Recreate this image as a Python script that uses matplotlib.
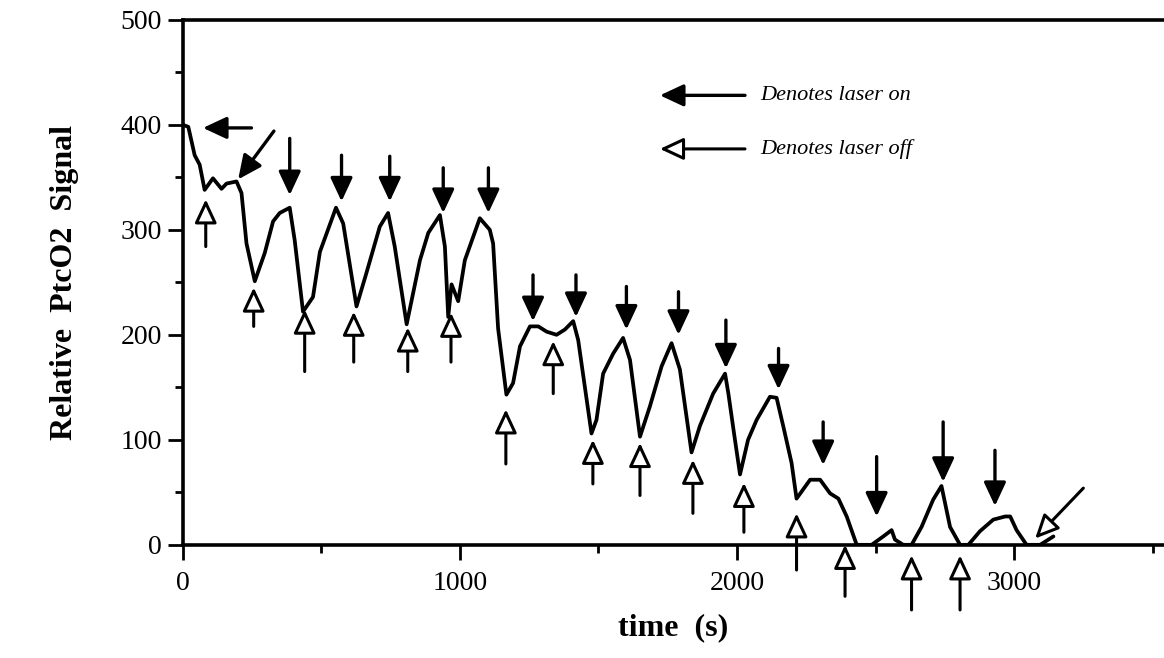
import numpy as np
import matplotlib
matplotlib.use('Agg')
import matplotlib.pyplot as plt
from matplotlib.ticker import MultipleLocator

plt.rcParams['font.family'] = ['Liberation Serif', 'DejaVu Serif']

# PtcO2 trace
time_s = [0, 20, 43, 61, 79, 109, 140, 158, 194, 212, 230, 260, 296, 326, 350, 386, 404, 434,
          470, 495, 553, 579, 627, 663, 711, 741, 765, 808, 856, 886, 928, 946, 958, 970, 994,
          1018, 1072, 1108, 1120, 1138, 1168, 1192, 1217, 1253, 1283, 1313, 1349, 1379, 1409,
          1427, 1475, 1493, 1517, 1553, 1589, 1614, 1650, 1686, 1728, 1764, 1794, 1836, 1866,
          1914, 1957, 1969, 1990, 2011, 2040, 2071, 2119, 2143, 2167, 2197, 2215, 2264, 2300,
          2336, 2366, 2396, 2432, 2486, 2528, 2558, 2570, 2600, 2630, 2666, 2708, 2738, 2769,
          2805, 2835, 2877, 2925, 2968, 2986, 3009, 3045, 3094, 3142]
signal = [400, 398, 371, 362, 338, 349, 339, 344, 346, 335, 287, 251, 278, 308, 316, 321, 290, 222,
          236, 279, 321, 306, 227, 259, 303, 316, 284, 210, 271, 297, 314, 284, 217, 248, 232,
          271, 311, 300, 287, 206, 143, 154, 189, 208, 208, 203, 200, 205, 213,
          195, 106, 119, 163, 182, 197, 176, 103, 132, 170, 192, 167, 88, 113,
          144, 163, 144, 105, 67, 100, 119, 141, 140, 113, 78, 44, 62, 62,
          49, 44, 27, 0, 0, 8, 14, 5, 0, 0, 17, 43, 56, 17,
          0, 0, 13, 24, 27, 27, 14, 0, 0, 8]

# laser on markers (filled, pointing down): x, tail y, tip y
on_x = [386, 573, 747, 940, 1103, 1264, 1419, 1601, 1789, 1960, 2150, 2311, 2504, 2744, 2931]
on_tail = [387, 371, 370, 359, 359, 257, 257, 246, 241, 214, 187, 117, 84, 117, 90]
on_tip = [333, 327, 327, 316, 316, 213, 217, 205, 200, 168, 148, 76, 27, 60, 37]

# laser off markers (open, pointing up): x, tail y, tip y
off_x = [83, 256, 440, 617, 812, 968, 1166, 1337, 1480, 1650, 1841, 2025, 2215, 2390, 2630, 2805]
off_tail = [284, 208, 165, 174, 165, 174, 77, 144, 58, 47, 30, 12, -24, -49, -62, -62]
off_tip = [329, 245, 224, 222, 207, 221, 129, 194, 100, 97, 81, 59, 30, 0, -10, -10]

fig = plt.figure(figsize=(11.64, 6.58), dpi=100)
ax = fig.add_axes([0.157, 0.172, 0.843, 0.798])

ax.plot(time_s, signal, color='black', lw=2.7, solid_joinstyle='round', solid_capstyle='round')

filled = dict(arrowstyle='-|>,head_length=0.9,head_width=0.42', lw=2.4, color='black',
              shrinkA=0, shrinkB=0, mutation_scale=16)
hollow = dict(arrowstyle='-|>,head_length=0.9,head_width=0.42', lw=2.2, facecolor='white',
              edgecolor='black', shrinkA=0, shrinkB=0, mutation_scale=16)

for x, y0, y1 in zip(on_x, on_tail, on_tip):
    ax.annotate('', xy=(x, y1), xytext=(x, y0), arrowprops=filled, annotation_clip=False)
for x, y0, y1 in zip(off_x, off_tail, off_tip):
    ax.annotate('', xy=(x, y1), xytext=(x, y0), arrowprops=hollow, annotation_clip=False)

# start / end markers
ax.annotate('', xy=(73, 397), xytext=(248, 397), arrowprops=filled)
ax.annotate('', xy=(200, 348), xytext=(329, 394), arrowprops=filled)
ax.annotate('', xy=(3076, 6), xytext=(3250, 54), arrowprops=hollow)

# key
ax.annotate('', xy=(1722, 428), xytext=(2029, 428), arrowprops=filled)
ax.annotate('', xy=(1722, 377), xytext=(2029, 377), arrowprops=hollow)
ax.text(2083, 428, 'Denotes laser on', style='italic', fontsize=16, va='center')
ax.text(2083, 377, 'Denotes laser off', style='italic', fontsize=16, va='center')

ax.set_xlim(0, 3541)
ax.set_ylim(0, 500)
ax.set_xticks([0, 1000, 2000, 3000])
ax.set_yticks([0, 100, 200, 300, 400, 500])
ax.xaxis.set_minor_locator(MultipleLocator(500))
ax.yaxis.set_minor_locator(MultipleLocator(50))
ax.tick_params(which='major', direction='out', length=11, width=2, labelsize=20, pad=8)
ax.tick_params(which='minor', direction='out', length=6, width=2)
ax.tick_params(axis='y', pad=4)
ax.tick_params(top=False, right=False)

for side in ['left', 'bottom', 'top']:
    ax.spines[side].set_linewidth(2.6)
ax.spines['right'].set_visible(False)

ax.set_xlabel('time  (s)', fontsize=23, fontweight='bold', labelpad=12)
ax.set_ylabel('Relative  PtcO2  Signal', fontsize=23, fontweight='bold', labelpad=30)

fig.savefig('out.png', dpi=100)
